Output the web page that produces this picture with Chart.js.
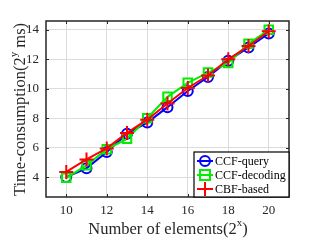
<!DOCTYPE html>
<html>
<head>
<meta charset="utf-8">
<script src="https://cdn.jsdelivr.net/npm/chart.js@4"></script>
<style>
  html, body { margin: 0; padding: 0; background: #fff; }
  #wrap { width: 319px; height: 240px; }
</style>
</head>
<body>
<div id="wrap"><canvas id="TimeChart" width="319" height="240"></canvas></div>
<script>
const xValues = [10, 11, 12, 13, 14, 15, 16, 17, 18, 19, 20];
const ccfQuery = [4.0, 4.6, 5.7, 6.95, 7.7, 8.75, 9.85, 10.8, 11.9, 12.8, 13.75];
const ccfDecoding = [3.95, 4.8, 5.9, 6.6, 8.0, 9.45, 10.4, 11.1, 11.75, 13.05, 14.0];
const cbfBased = [4.35, 5.2, 5.95, 7.0, 7.9, 9.0, 10.05, 10.9, 12.0, 12.9, 13.9];
const xTicks = [10, 12, 14, 16, 18, 20];
const yTicks = [4, 6, 8, 10, 12, 14];
const seriesNames = ['CCF-query', 'CCF-decoding', 'CBF-based'];

const font = '"Liberation Serif", "Times New Roman", serif';
const axisColor = '#262626';

function pts(ys) {
  return xValues.map((x, i) => ({ x: x, y: ys[i] }));
}

// inner tick marks on all four sides, legend box and axis titles
const decorations = {
  id: 'decorations',
  afterDraw(chart) {
    const c = chart.ctx;
    const a = chart.chartArea;
    const xs = chart.scales.x, ys = chart.scales.y;
    c.save();
    c.strokeStyle = axisColor;
    c.lineWidth = 1;
    xTicks.forEach(v => {
      const px = Math.round(xs.getPixelForValue(v)) + 0.5;
      c.beginPath();
      c.moveTo(px, a.bottom); c.lineTo(px, a.bottom - 3);
      c.moveTo(px, a.top); c.lineTo(px, a.top + 3);
      c.stroke();
    });
    yTicks.forEach(v => {
      const py = Math.round(ys.getPixelForValue(v)) + 0.5;
      c.beginPath();
      c.moveTo(a.left, py); c.lineTo(a.left + 3, py);
      c.moveTo(a.right, py); c.lineTo(a.right - 3, py);
      c.stroke();
    });
    c.lineWidth = 1.5;
    c.strokeRect(a.left, a.top, a.right - a.left, a.bottom - a.top);

    // legend
    const lx = 194, ly = 152, lw = a.right - 194, lh = a.bottom - 152;
    c.fillStyle = '#fff';
    c.fillRect(lx, ly, lw, lh);
    c.strokeStyle = '#000';
    c.lineWidth = 1.2;
    c.strokeRect(lx, ly, lw, lh);
    const rows = [161, 175, 189];
    chart.data.datasets.forEach((ds, i) => {
      const cy = rows[i];
      c.strokeStyle = ds.borderColor;
      c.lineWidth = 2;
      c.beginPath();
      c.moveTo(197, cy); c.lineTo(213, cy);
      c.stroke();
      c.beginPath();
      if (ds.pointStyle === 'circle') {
        c.arc(205, cy, 5, 0, Math.PI * 2);
      } else if (ds.pointStyle === 'rect') {
        c.rect(200, cy - 5, 10, 10);
      } else {
        c.moveTo(205, cy - 7); c.lineTo(205, cy + 7);
      }
      c.stroke();
      c.fillStyle = '#000';
      c.font = '12px ' + font;
      c.textAlign = 'left';
      c.textBaseline = 'middle';
      c.fillText(ds.label, 215, cy + 0.5);
    });

    // axis titles with superscripts
    c.fillStyle = axisColor;
    c.textBaseline = 'alphabetic';
    drawSup(c, 'Number of elements(2', 'x', ')', (a.left + a.right) / 2 + 0.5, 234, 0);
    drawSup(c, 'Time-consumption(2', 'y', ' ms)', 25, 109.5, -Math.PI / 2);
    c.restore();
  }
};

function drawSup(c, pre, sup, post, cx, cy, rot) {
  const big = '16.5px ' + font, small = '11px ' + font;
  c.font = big;
  const w1 = c.measureText(pre).width, w3 = c.measureText(post).width;
  c.font = small;
  const w2 = c.measureText(sup).width;
  const total = w1 + w2 + w3;
  c.save();
  c.translate(cx, cy);
  c.rotate(rot);
  c.textAlign = 'left';
  let x = -total / 2;
  c.font = big; c.fillText(pre, x, 0); x += w1;
  c.font = small; c.fillText(sup, x, -8); x += w2;
  c.font = big; c.fillText(post, x, 0);
  c.restore();
}

new Chart(document.getElementById('TimeChart'), {
  type: 'line',
  data: {
    datasets: [{
      label: seriesNames[0],
      data: pts(ccfQuery),
      borderColor: '#0000ff',
      pointStyle: 'circle',
      pointRadius: 5,
      order: 3
    }, {
      label: seriesNames[1],
      data: pts(ccfDecoding),
      borderColor: '#00ee00',
      pointStyle: 'rect',
      pointRadius: 6,
      order: 2
    }, {
      label: seriesNames[2],
      data: pts(cbfBased),
      borderColor: '#ff0000',
      pointStyle: 'cross',
      pointRadius: 7,
      order: 1
    }]
  },
  options: {
    responsive: false,
    animation: false,
    datasets: {
      line: {
        borderWidth: 2,
        pointBorderWidth: 2,
        pointBackgroundColor: 'rgba(0,0,0,0)',
        tension: 0
      }
    },
    layout: { padding: { left: 16, top: 21, right: 30, bottom: 23 } },
    plugins: { legend: { display: false }, tooltip: { enabled: false } },
    scales: {
      x: {
        type: 'linear',
        min: 9, max: 21,
        afterBuildTicks: s => { s.ticks = xTicks.map(v => ({ value: v })); },
        afterFit: s => { s.height = 20; },
        grid: { color: '#dcdcdc', drawTicks: false },
        border: { display: false },
        ticks: { color: axisColor, font: { family: font, size: 13 }, padding: 6, maxRotation: 0 }
      },
      y: {
        min: 2.65, max: 14.6,
        afterBuildTicks: s => { s.ticks = yTicks.map(v => ({ value: v })); },
        afterFit: s => { s.width = 30; },
        grid: { color: '#dcdcdc', drawTicks: false },
        border: { display: false },
        ticks: { color: axisColor, font: { family: font, size: 13 }, padding: 7 }
      }
    }
  },
  plugins: [decorations]
});
</script>
</body>
</html>
